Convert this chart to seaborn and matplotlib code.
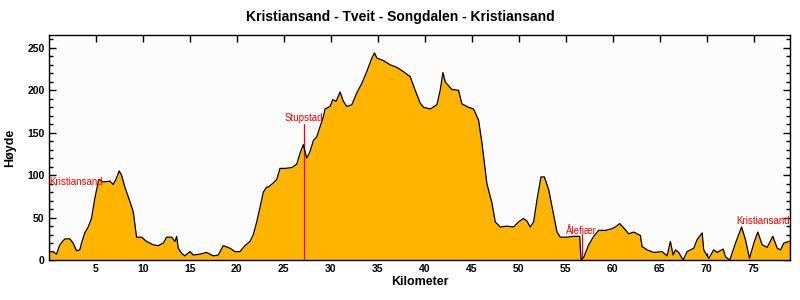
import numpy as np
import pandas as pd
import matplotlib
matplotlib.use("Agg")
import matplotlib.pyplot as plt
import seaborn as sns
from matplotlib.ticker import MultipleLocator

km = [0.0, 0.46, 0.82, 1.17, 1.70, 2.24, 2.59, 2.95, 3.30, 3.48, 3.83, 4.19, 4.54, 4.90,
      5.32, 5.79, 6.50, 6.85, 7.14, 7.49, 7.74, 8.09, 8.63, 8.98, 9.34, 9.87, 10.40,
      11.11, 11.64, 12.18, 12.53, 13.07, 13.42, 13.60, 13.77, 14.13, 14.48, 15.02, 15.37,
      16.08, 16.79, 17.50, 18.03, 18.56, 19.28, 19.81, 20.34, 20.87, 21.41, 21.76, 22.12,
      22.47, 22.82, 23.18, 23.36, 23.89, 24.25, 24.60, 25.13, 25.85, 26.38, 26.73, 27.08,
      27.44, 27.80, 28.15, 28.50, 28.86, 29.21, 29.39, 29.93, 30.21, 30.57, 30.99, 31.34,
      31.70, 32.24, 32.77, 33.30, 33.83, 34.37, 34.65, 34.90, 35.60, 36.32, 37.03, 37.73,
      38.45, 38.98, 39.51, 39.86, 40.58, 41.29, 41.64, 41.93, 42.17, 42.88, 43.59, 43.95,
      44.65, 45.19, 45.72, 46.08, 46.61, 47.15, 47.50, 48.03, 48.74, 49.45, 49.98, 50.51,
      50.87, 51.22, 51.58, 51.94, 52.36, 52.72, 53.18, 53.61, 54.07, 54.42, 55.13, 55.84,
      56.48, 56.62, 56.90, 57.44, 57.97, 58.50, 59.21, 59.92, 60.28, 60.74, 61.16, 61.70,
      62.23, 62.94, 63.12, 63.66, 64.36, 65.25, 65.78, 66.13, 66.42, 66.67, 67.02, 67.49,
      67.91, 68.62, 68.97, 69.51, 69.68, 70.21, 70.74, 71.10, 71.74, 71.99, 72.45, 73.06,
      73.70, 74.12, 74.55, 75.01, 75.43, 75.90, 76.43, 77.03, 77.50, 77.85, 78.20, 78.73,
      78.90]
elev = [10, 10, 7, 18, 25, 25, 20, 11, 12, 20, 32, 39, 49, 73,
        95, 92, 93, 89, 95, 105, 100, 86, 69, 57, 27, 27, 22,
        18, 17, 20, 27, 27, 22, 28, 14, 8, 5, 10, 6,
        7, 9, 5, 6, 17, 14, 10, 10, 17, 22, 30, 45,
        62, 80, 86, 86, 91, 95, 108, 108, 109, 113, 126, 136,
        120, 128, 141, 145, 157, 169, 178, 181, 189, 187, 198, 187,
        181, 183, 197, 208, 222, 238, 244, 238, 235, 230, 227, 222,
        216, 200, 185, 180, 178, 183, 200, 221, 210, 201, 200, 184,
        180, 178, 165, 138, 90, 67, 45, 39, 40, 39, 45, 49,
        46, 39, 45, 71, 98, 98, 83, 59, 33, 27, 27, 28,
        28, 1, 3, 18, 28, 35, 35, 37, 39, 43, 38, 31,
        33, 29, 16, 12, 9, 10, 5, 22, 6, 12, 9, 0,
        10, 14, 24, 32, 12, 2, 12, 9, 13, 4, 0, 20,
        39, 24, 2, 20, 33, 18, 15, 28, 14, 12, 20, 22,
        22]

# Place markers
place_names = ["Kristiansand", "Stupstad", "Ålefjær", "Kristiansand"]
place_km = [0.0, 27.1, 56.7, 78.85]
place_label_h = [92, 167, 35, 46]

title = "Kristiansand - Tveit - Songdalen - Kristiansand"
xlabel = "Kilometer"
ylabel = "Høyde"

df = pd.DataFrame({"km": km, "elev": elev})

sns.set_theme(style="ticks")
plt.rcParams["font.family"] = ["Liberation Sans", "DejaVu Sans"]
plt.rcParams["font.weight"] = "bold"
for key in ["text.color", "axes.labelcolor", "xtick.color", "ytick.color", "axes.edgecolor"]:
    plt.rcParams[key] = "black"

fig = plt.figure(figsize=(8, 3), dpi=100, facecolor="white")
ax = fig.add_axes([0.061, 0.133, 0.927, 0.75])
ax.set_facecolor("#fcfcfc")

ax.fill_between(df["km"], df["elev"], 0, color="#ffb400", lw=0, zorder=1)
sns.lineplot(data=df, x="km", y="elev", ax=ax, color="black", lw=0.9, zorder=3)

# Place markers: red vertical line and red label
aligns = ["left", "center", "center", "right"]
for name, xk, h, ha in zip(place_names, place_km, place_label_h, aligns):
    ax.plot([xk, xk], [0, h - 7], color="red", lw=0.9, zorder=2)
    ax.text(xk, h, name, color="red", fontsize=7, ha=ha, va="center",
            fontweight="normal", zorder=4)

ax.set_xlim(0, 78.9)
ax.set_ylim(0, 265)
ax.set_xticks(np.arange(5, 80, 5))
ax.yaxis.set_major_locator(MultipleLocator(50))
ax.yaxis.set_minor_locator(MultipleLocator(10))
ax.tick_params(axis="both", which="major", direction="in", length=5, width=1,
               labelsize=7.5, colors="black", pad=3)
ax.tick_params(axis="y", which="minor", direction="in", length=3, width=1,
               left=True, right=True)
ax.tick_params(axis="x", which="major", top=True)
ax.tick_params(axis="y", which="major", right=True)
for lab in ax.get_xticklabels() + ax.get_yticklabels():
    lab.set_fontweight("bold")
for s in ax.spines.values():
    s.set_visible(True)
    s.set_color("black")
    s.set_linewidth(1)

ax.set_xlabel(xlabel, fontsize=9, fontweight="bold", labelpad=1)
ax.set_ylabel(ylabel, fontsize=9, fontweight="bold", labelpad=8)
fig.suptitle(title, fontsize=10, fontweight="bold", y=0.965, color="black")

fig.savefig("out.png", dpi=100, facecolor="white")
